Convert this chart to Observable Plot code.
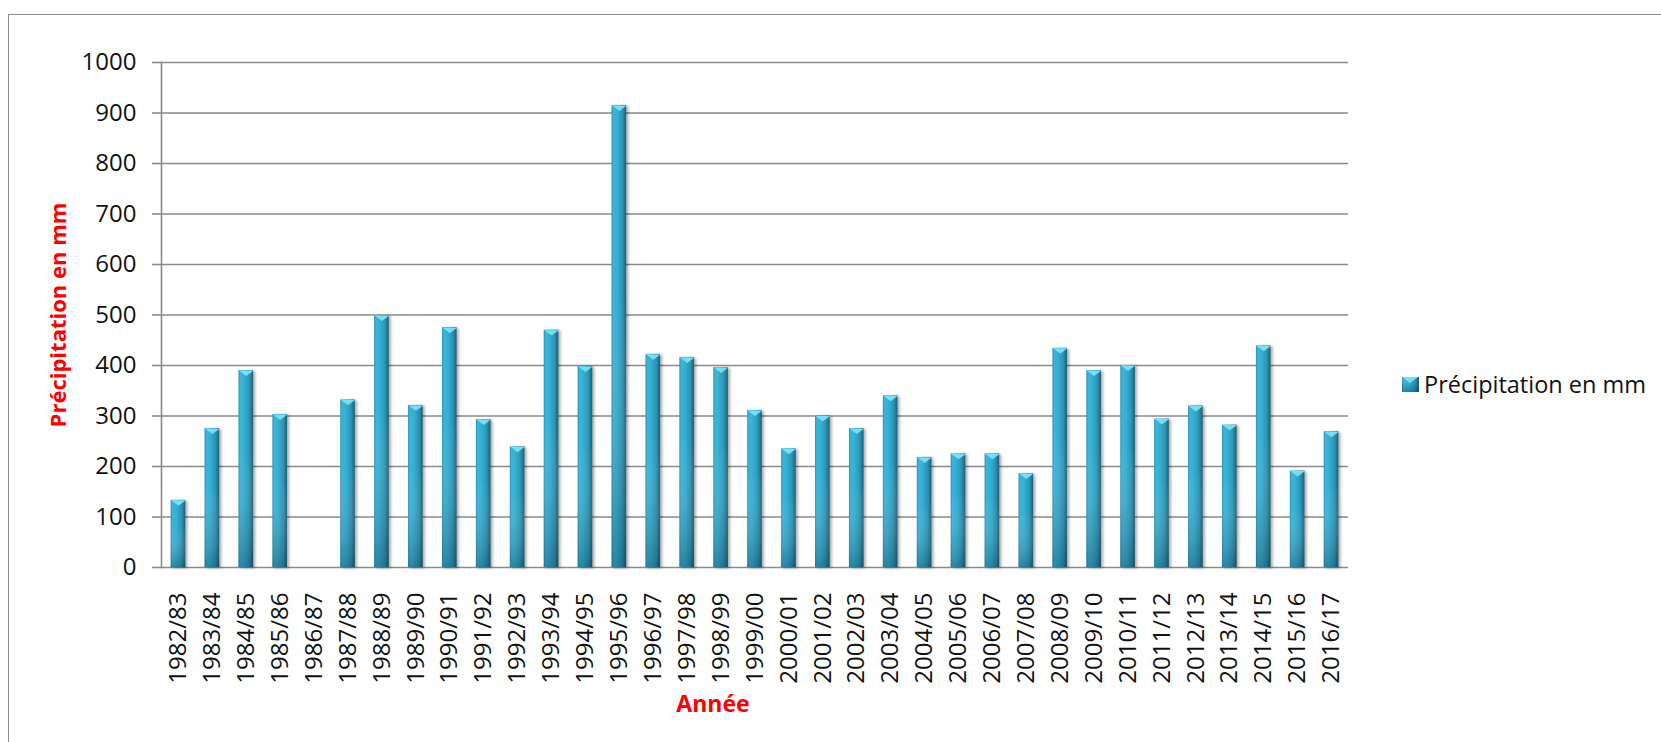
<!DOCTYPE html>
<html>
<head>
<meta charset="utf-8">
<script src="https://cdn.jsdelivr.net/npm/d3@7"></script>
<script src="https://cdn.jsdelivr.net/npm/@observablehq/plot@0.6"></script>
<style>
html, body { margin: 0; padding: 0; background: #fff; overflow: hidden; width: 1661px; height: 742px; }
#wrap { position: relative; width: 1661px; height: 742px; }
#border { position: absolute; left: 8px; top: 14px; width: 1700px; height: 800px; border: 1.6px solid #8d8d8d; box-sizing: border-box; }
#chart { position: absolute; left: 0; top: 0; }
#legend { position: absolute; left: 1402px; top: 368px; display: flex; align-items: center; font-family: "Open Sans"; font-size: 23.5px; color: #111; white-space: nowrap; }
#legend .sw { width: 17px; height: 15px; margin-right: 5px; position: relative;
  background: linear-gradient(to bottom, rgba(255,255,255,0) 40%, rgba(0,30,45,0.3)), linear-gradient(to right, #2a8fae, #3ab5d9 12%, #35aed2 40%, #2b93b3 75%, #1b5f75); }
#legend .sw::before { content: ""; position: absolute; left: 0; top: 0; border-left: 8.5px solid transparent; border-right: 8.5px solid transparent; border-top: 6px solid #78def2; }
</style>
</head>
<body>
<div id="wrap">
  <div id="border"></div>
  <div id="chart"></div>
  <div id="legend"><span class="sw"></span><span>Précipitation en mm</span></div>
</div>
<script>
const years = ["1982/83","1983/84","1984/85","1985/86","1986/87","1987/88","1988/89","1989/90","1990/91","1991/92","1992/93","1993/94","1994/95","1995/96","1996/97","1997/98","1998/99","1999/00","2000/01","2001/02","2002/03","2003/04","2004/05","2005/06","2006/07","2007/08","2008/09","2009/10","2010/11","2011/12","2012/13","2013/14","2014/15","2015/16","2016/17"];
const precipitation = [133,275,390,303,null,332,499,321,475,293,239,470,398,915,422,416,396,311,235,300,275,340,218,225,225,186,434,390,400,294,320,282,439,191,269];
const yTicks = [0,100,200,300,400,500,600,700,800,900,1000];
const yTitle = "Précipitation en mm";
const xTitle = "Année";

const data = years.map((year, i) => ({year, value: precipitation[i]}));
const hasValue = d => d.value != null && d.value > 0;

const capSymbol = {
  draw(ctx, size) {
    const r = Math.sqrt(size / Math.PI);
    ctx.moveTo(-r, 0);
    ctx.lineTo(r, 0);
    ctx.lineTo(0, r * 0.75);
    ctx.closePath();
  }
};

const gridColor = "#8a8a8a";

const chart = Plot.plot({
  width: 1661,
  height: 742,
  marginLeft: 161,
  marginRight: 313,
  marginTop: 62,
  marginBottom: 175,
  style: {fontFamily: "'Open Sans'", fontSize: "24px", color: "#111", background: "transparent"},
  x: {domain: years, paddingInner: 0.57, paddingOuter: 0.285, label: null},
  y: {domain: [0, 1000], label: null},
  marks: [
    Plot.gridY(yTicks, {stroke: gridColor, strokeOpacity: 1, strokeWidth: 1.6}),
    Plot.axisY(yTicks, {tickSize: 9, tickPadding: 16, tickFormat: d => String(d), stroke: gridColor, strokeWidth: 1.6, label: null}),
    Plot.frame({anchor: "left", stroke: gridColor, strokeWidth: 1.6}),
    Plot.axisX({tickSize: 0, tickPadding: 25, tickRotate: -90, label: null}),
    Plot.barY(data, {filter: hasValue, x: "year", y: "value", fill: "url(#barGrad)", imageFilter: "drop-shadow(2px 1px 1.5px rgba(0,0,0,0.35))"}),
    Plot.barY(data, {filter: hasValue, x: "year", y: "value", fill: "url(#barShade)"}),
    Plot.dot(data, {filter: hasValue, x: "year", y: "value", symbol: capSymbol, r: 7.3, fill: "#78def2", stroke: "none"}),
    Plot.text([yTitle], {text: d => d, frameAnchor: "left", dx: -103, rotate: -90, textAnchor: "middle", lineAnchor: "middle", fill: "red", fontWeight: "bold", fontSize: 22}),
    Plot.text([xTitle], {text: d => d, frameAnchor: "bottom", dx: -42, dy: 137, textAnchor: "middle", lineAnchor: "middle", fill: "red", fontWeight: "bold", fontSize: 23})
  ]
});

d3.select(chart).insert("defs", ":first-child").html(`
  <linearGradient id="barGrad" x1="0" y1="0" x2="1" y2="0">
    <stop offset="0" stop-color="#2a8fae"/>
    <stop offset="0.12" stop-color="#3ab5d9"/>
    <stop offset="0.4" stop-color="#35aed2"/>
    <stop offset="0.75" stop-color="#2b93b3"/>
    <stop offset="1" stop-color="#1b5f75"/>
  </linearGradient>
  <linearGradient id="barShade" x1="0" y1="0" x2="0" y2="1">
    <stop offset="0" stop-color="#ffffff" stop-opacity="0"/>
    <stop offset="0.4" stop-color="#ffffff" stop-opacity="0"/>
    <stop offset="1" stop-color="#001e2d" stop-opacity="0.3"/>
  </linearGradient>
`);

document.getElementById("chart").appendChild(chart);
</script>
</body>
</html>
